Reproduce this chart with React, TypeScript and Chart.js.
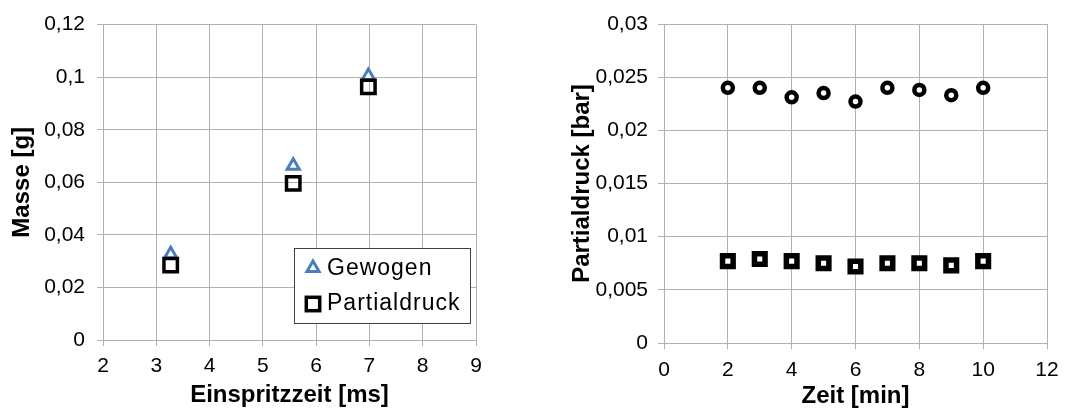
import React, { useEffect, useRef } from 'react';
import { Chart, registerables } from 'chart.js';

Chart.register(...registerables);

// ---- Left chart data ----
const injectionTimesMs = [3.27, 5.57, 6.98];
const massWeighed = [0.0326, 0.0663, 0.1004];
const massPartialPressure = [0.0285, 0.0596, 0.0963];
const leftLegendLabels = ['Gewogen', 'Partialdruck'];

// ---- Right chart data ----
const timeMinutes = [2, 3, 4, 5, 6, 7, 8, 9, 10];
const pressureUpper = [0.024, 0.024, 0.0231, 0.0235, 0.0227, 0.024, 0.0238, 0.0233, 0.024];
const pressureLower = [0.0077, 0.0079, 0.0077, 0.0075, 0.0072, 0.0075, 0.0075, 0.0073, 0.0077];

const FONT = 'Liberation Sans, Arial, sans-serif';
const GRID = '#b0b0b0';
const BLUE = '#4a7ebb';

const fmt = (v: number) => String(Number(Number(v).toFixed(4))).replace('.', ',');

const legendPlugin = {
  id: 'insideLegend',
  afterDatasetsDraw(chart: any) {
    if (chart.canvas.dataset.legend !== '1') return;
    const { ctx, chartArea } = chart;
    const w = 177, h = 76;
    const x0 = chartArea.right - 5 - w;
    const y0 = chartArea.bottom - 16 - h;
    ctx.save();
    ctx.fillStyle = '#fff';
    ctx.fillRect(x0, y0, w, h);
    ctx.strokeStyle = '#404040';
    ctx.lineWidth = 1;
    ctx.strokeRect(x0 + 0.5, y0 + 0.5, w - 1, h - 1);
    const mx = x0 + 19;
    const y1 = y0 + 20;
    const y2 = y0 + 56;
    // triangle
    const r = 7;
    ctx.beginPath();
    ctx.moveTo(mx, y1 - r);
    ctx.lineTo(mx + r * Math.sin(Math.PI * 2 / 3), y1 + r * 0.5);
    ctx.lineTo(mx - r * Math.sin(Math.PI * 2 / 3), y1 + r * 0.5);
    ctx.closePath();
    ctx.fillStyle = '#fff';
    ctx.fill();
    ctx.strokeStyle = BLUE;
    ctx.lineWidth = 3;
    ctx.stroke();
    // square
    const s = 6.7;
    ctx.strokeStyle = '#000';
    ctx.lineWidth = 3.5;
    ctx.strokeRect(mx - s, y2 - s, 2 * s, 2 * s);
    // text
    ctx.fillStyle = '#000';
    ctx.font = `23px ${FONT}`;
    (ctx as any).letterSpacing = '1px';
    ctx.textBaseline = 'middle';
    ctx.textAlign = 'left';
    ctx.fillText(leftLegendLabels[0], x0 + 33, y1 + 1);
    ctx.fillText(leftLegendLabels[1], x0 + 33, y2);
    ctx.restore();
  },
};

function makeAxis(opts: any) {
  return {
    type: 'linear',
    min: opts.min,
    max: opts.max,
    grid: { color: GRID, lineWidth: 1, tickLength: 6, drawTicks: true, tickColor: GRID },
    border: { color: GRID, width: 1 },
    ticks: {
      stepSize: opts.step,
      autoSkip: false,
      maxRotation: 0,
      padding: opts.tickPad,
      color: '#000',
      font: { family: FONT, size: 21 },
      callback: (v: number) => fmt(v),
    },
    title: {
      display: true,
      text: opts.title,
      color: '#000',
      font: { family: FONT, size: 24, weight: 'bold', lineHeight: 1 },
      padding: opts.titlePad,
    },
    afterFit: opts.afterFit,
  };
}

function LeftChart() {
  const ref = useRef<HTMLCanvasElement>(null);
  useEffect(() => {
    const chart = new Chart(ref.current as HTMLCanvasElement, {
      type: 'scatter',
      data: {
        datasets: [
          {
            label: leftLegendLabels[0],
            data: injectionTimesMs.map((x, i) => ({ x, y: massWeighed[i] })),
            pointStyle: 'triangle',
            pointRadius: 7,
            pointBorderWidth: 3,
            borderColor: BLUE,
            backgroundColor: '#fff',
            order: 1,
          },
          {
            label: leftLegendLabels[1],
            data: injectionTimesMs.map((x, i) => ({ x, y: massPartialPressure[i] })),
            pointStyle: 'rect',
            pointRadius: 9.5,
            pointBorderWidth: 3.5,
            borderColor: '#000',
            backgroundColor: 'rgba(255,255,255,0)',
            order: 0,
          },
        ],
      },
      options: {
        responsive: false,
        animation: false,
        layout: { padding: { left: 0, right: 64, top: 23, bottom: 0 } },
        plugins: { legend: { display: false }, tooltip: { enabled: false } },
        scales: {
          x: makeAxis({
            min: 2, max: 9, step: 1, tickPad: 8, title: 'Einspritzzeit [ms]',
            titlePad: { top: 0, bottom: 1 },
            afterFit: (s: any) => { s.height = 68; },
          }),
          y: makeAxis({
            min: 0, max: 0.12, step: 0.02, tickPad: 12, title: 'Masse [g]',
            titlePad: { top: 10, bottom: 0 },
            afterFit: (s: any) => { s.width = 103; },
          }),
        },
      } as any,
      plugins: [legendPlugin],
    });
    return () => chart.destroy();
  }, []);
  return <canvas ref={ref} width={540} height={408} data-legend="1" style={{ width: 540, height: 408, display: 'block' }} />;
}

function RightChart() {
  const ref = useRef<HTMLCanvasElement>(null);
  useEffect(() => {
    const chart = new Chart(ref.current as HTMLCanvasElement, {
      type: 'scatter',
      data: {
        datasets: [
          {
            label: 'upper',
            data: timeMinutes.map((x, i) => ({ x, y: pressureUpper[i] })),
            pointStyle: 'circle',
            pointRadius: 5,
            pointBorderWidth: 4.5,
            borderColor: '#000',
            backgroundColor: '#fff',
          },
          {
            label: 'lower',
            data: timeMinutes.map((x, i) => ({ x, y: pressureLower[i] })),
            pointStyle: 'rect',
            pointRadius: 7.5,
            pointBorderWidth: 5.5,
            borderColor: '#000',
            backgroundColor: '#fff',
          },
        ],
      },
      options: {
        responsive: false,
        animation: false,
        layout: { padding: { left: 0, right: 34, top: 24, bottom: 0 } },
        plugins: { legend: { display: false }, tooltip: { enabled: false } },
        scales: {
          x: makeAxis({
            min: 0, max: 12, step: 2, tickPad: 9, title: 'Zeit [min]',
            titlePad: { top: 0, bottom: 0 },
            afterFit: (s: any) => { s.height = 65; },
          }),
          y: makeAxis({
            min: 0, max: 0.03, step: 0.005, tickPad: 10, title: 'Partialdruck [bar]',
            titlePad: { top: 30, bottom: 0 },
            afterFit: (s: any) => { s.width = 124; },
          }),
        },
      } as any,
    });
    return () => chart.destroy();
  }, []);
  return <canvas ref={ref} width={541} height={408} style={{ width: 541, height: 408, display: 'block' }} />;
}

export default function App() {
  return (
    <div style={{ position: 'absolute', left: 0, top: 0, width: 1081, height: 408, background: '#fff' }}>
      <div style={{ position: 'absolute', left: 0, top: 0, width: 540, height: 408 }}>
        <LeftChart />
      </div>
      <div style={{ position: 'absolute', left: 540, top: 0, width: 541, height: 408 }}>
        <RightChart />
      </div>
    </div>
  );
}
